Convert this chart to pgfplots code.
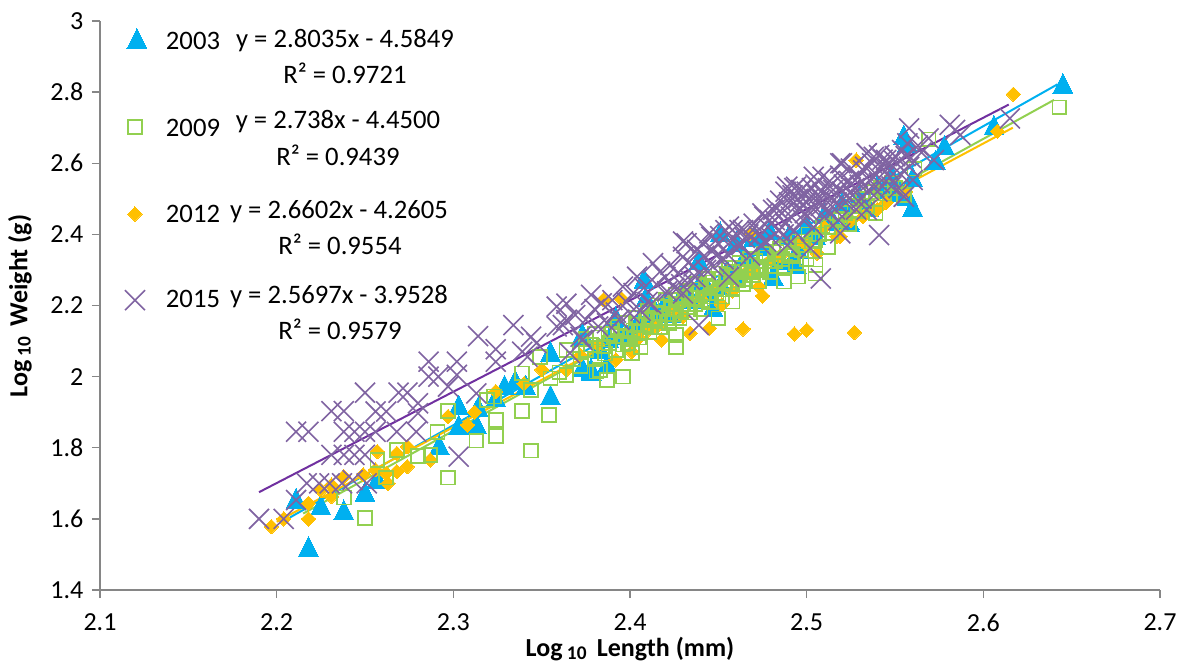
\documentclass[border=0pt]{standalone}
\usepackage{fontspec}
\setmainfont{Carlito}
\usepackage{pgfplots}
\usepackage{pgfplotstable}
\pgfplotsset{compat=1.18}
\definecolor{cblue}{HTML}{00B0F0}
\definecolor{cgreen}{HTML}{92D050}
\definecolor{cyellow}{HTML}{FFC000}
\definecolor{cpurple}{HTML}{8064A2}
\definecolor{cline}{HTML}{7030A0}
\definecolor{caxis}{HTML}{868686}
\newcommand{\txt}[2]{\node[font=\fontsize{20}{20}\selectfont, inner sep=0pt] at (#1) {#2};}
\pgfplotstableread{
x y
2.1209 2.941
2.211 1.649
2.218 1.513
2.225 1.630
2.238 1.616
2.250 1.667
2.257 1.705
2.292 1.799
2.303 1.911
2.303 1.855
2.313 1.859
2.314 1.906
2.324 1.934
2.329 1.967
2.335 1.981
2.341 1.967
2.355 1.939
2.355 2.061
2.373 2.019
2.378 2.009
2.373 2.103
2.378 2.014
2.387 2.028
2.408 2.267
2.409 2.215
2.373 2.112
2.439 2.319
2.451 2.398
2.447 2.187
2.479 2.403
2.481 2.276
2.494 2.309
2.524 2.431
2.392 2.159
2.400 2.120
2.412 2.180
2.420 2.200
2.430 2.230
2.440 2.260
2.455 2.290
2.465 2.330
2.475 2.360
2.490 2.390
2.500 2.420
2.510 2.450
2.520 2.480
2.530 2.500
2.540 2.530
2.548 2.560
2.645 2.815
2.606 2.698
2.555 2.670
2.578 2.642
2.573 2.600
2.560 2.553
2.557 2.501
2.560 2.469
2.524 2.426
2.545 2.520
2.383 2.070
2.388 2.100
2.395 2.110
2.405 2.150
2.415 2.170
2.425 2.170
2.435 2.210
2.445 2.230
2.452 2.250
2.460 2.280
2.470 2.300
2.485 2.320
2.495 2.350
2.505 2.390
2.515 2.430
2.535 2.470
2.550 2.510
2.557 2.650
2.470 2.385
2.460 2.370
}\tblA
\pgfplotstableread{
x y
2.1198 2.457
2.197 1.578
2.204 1.600
2.218 1.600
2.218 1.644
2.225 1.681
2.231 1.695
2.238 1.719
2.231 1.663
2.249 1.724
2.257 1.789
2.256 1.738
2.263 1.700
2.262 1.728
2.268 1.733
2.274 1.747
2.268 1.784
2.274 1.803
2.287 1.766
2.297 1.888
2.308 1.864
2.312 1.900
2.324 1.958
2.464 2.134
2.493 2.120
2.500 2.131
2.527 2.124
2.445 2.136
2.434 2.122
2.418 2.103
2.475 2.227
2.473 2.253
2.468 2.403
2.385 2.216
2.395 2.220
2.392 2.047
2.364 2.019
2.401 2.070
2.452 2.202
2.458 2.240
2.506 2.347
2.519 2.394
2.532 2.450
2.617 2.794
2.528 2.609
2.517 2.394
2.340 1.980
2.350 2.020
2.372 2.060
2.382 2.090
2.410 2.130
2.425 2.190
2.440 2.220
2.470 2.300
2.485 2.340
2.495 2.380
2.510 2.420
2.545 2.490
2.556 2.520
2.608 2.690
2.405 2.110
2.415 2.140
2.430 2.170
2.448 2.250
2.465 2.290
2.480 2.330
2.500 2.370
2.525 2.440
2.540 2.470
}\tblC
\pgfplotstableread{
x y
2.1198 2.702
2.250 1.602
2.297 1.716
2.344 1.792
2.238 1.660
2.262 1.716
2.257 1.766
2.268 1.794
2.280 1.777
2.287 1.780
2.291 1.845
2.297 1.904
2.313 1.820
2.324 1.833
2.324 1.878
2.319 1.934
2.323 1.944
2.339 1.903
2.354 1.892
2.339 2.009
2.344 1.962
2.349 2.056
2.355 1.995
2.364 2.005
2.364 2.075
2.381 2.014
2.387 1.991
2.396 2.000
2.360 2.012
2.383 2.019
2.401 2.066
2.406 2.084
2.426 2.084
2.426 2.117
2.450 2.164
2.458 2.211
2.487 2.267
2.495 2.281
2.505 2.314
2.512 2.365
2.539 2.459
2.505 2.290
2.473 2.267
2.643 2.757
2.569 2.667
2.555 2.511
2.368 2.050
2.372 2.030
2.375 2.075
2.378 2.090
2.380 2.050
2.383 2.110
2.386 2.065
2.388 2.095
2.390 2.130
2.392 2.075
2.395 2.115
2.397 2.150
2.399 2.095
2.402 2.130
2.404 2.165
2.405 2.110
2.408 2.145
2.410 2.185
2.411 2.125
2.413 2.160
2.415 2.200
2.417 2.140
2.419 2.175
2.420 2.215
2.422 2.150
2.424 2.190
2.426 2.230
2.428 2.165
2.430 2.205
2.432 2.240
2.434 2.180
2.436 2.220
2.438 2.260
2.440 2.190
2.442 2.235
2.444 2.275
2.446 2.210
2.448 2.250
2.450 2.290
2.452 2.225
2.454 2.265
2.456 2.305
2.458 2.245
2.460 2.280
2.462 2.320
2.464 2.260
2.466 2.295
2.468 2.330
2.470 2.285
2.473 2.310
2.476 2.345
2.479 2.295
2.482 2.325
2.485 2.360
2.488 2.310
2.491 2.340
2.494 2.320
2.497 2.355
2.500 2.330
2.503 2.380
2.507 2.400
2.512 2.420
2.517 2.440
2.522 2.460
2.527 2.480
2.532 2.500
2.537 2.520
2.542 2.530
2.548 2.545
2.400 2.110
2.403 2.145
2.406 2.125
2.409 2.165
2.412 2.140
2.414 2.180
2.416 2.155
2.418 2.195
2.421 2.165
2.423 2.205
2.425 2.175
2.427 2.215
2.429 2.185
2.431 2.225
2.433 2.195
2.435 2.235
2.437 2.205
2.439 2.245
2.441 2.215
2.443 2.255
2.445 2.225
2.447 2.265
2.449 2.235
2.451 2.275
2.453 2.245
2.455 2.285
2.457 2.260
2.459 2.295
2.461 2.270
2.463 2.305
2.465 2.275
2.467 2.315
2.469 2.295
2.471 2.325
2.474 2.300
2.477 2.335
2.480 2.310
2.483 2.350
2.486 2.330
2.489 2.365
2.492 2.345
2.495 2.380
2.498 2.370
2.501 2.400
2.505 2.385
2.509 2.425
2.514 2.405
2.519 2.445
2.524 2.430
2.529 2.465
2.534 2.480
2.539 2.500
2.544 2.515
2.550 2.530
2.375 2.105
2.380 2.120
2.385 2.085
2.389 2.120
2.393 2.140
2.396 2.090
2.561 2.585
}\tblB
\pgfplotstableread{
x y
2.1198 2.215
2.190 1.600
2.204 1.600
2.211 1.653
2.211 1.845
2.218 1.845
2.231 1.903
2.238 1.903
2.250 1.955
2.256 1.902
2.262 1.902
2.269 1.955
2.274 1.955
2.280 1.925
2.286 2.042
2.286 2.000
2.2915 2.000
2.297 1.972
2.302 2.042
2.302 2.005
2.314 2.114
2.324 2.077
2.324 2.042
2.334 2.145
2.339 2.070
2.344 2.112
2.342 2.056
2.347 2.094
2.362 2.145
2.372 2.112
2.364 2.205
2.217 1.700
2.224 1.700
2.230 1.700
2.237 1.700
2.243 1.709
2.251 1.700
2.231 1.780
2.238 1.780
2.244 1.780
2.250 1.780
2.238 1.845
2.244 1.845
2.250 1.845
2.256 1.845
2.268 1.845
2.279 1.845
2.303 1.775
2.313 1.953
2.280 1.897
2.3585 2.197
2.364 2.159
2.3585 2.141
2.369 2.173
2.378 2.230
2.384 2.206
2.373 2.103
2.366 2.066
2.382 2.141
2.396 2.253
2.404 2.281
2.400 2.178
2.413 2.319
2.423 2.314
2.430 2.380
2.430 2.337
2.438 2.356
2.434 2.272
2.430 2.234
2.446 2.393
2.447 2.356
2.454 2.412
2.458 2.412
2.462 2.412
2.447 2.309
2.456 2.281
2.476 2.450
2.483 2.473
2.488 2.520
2.493 2.530
2.500 2.520
2.503 2.530
2.439 2.145
2.508 2.276
2.541 2.398
2.502 2.361
2.489 2.370
2.392 2.180
2.410 2.210
2.415 2.260
2.420 2.280
2.425 2.250
2.436 2.310
2.442 2.340
2.450 2.375
2.453 2.330
2.460 2.360
2.465 2.390
2.468 2.340
2.472 2.410
2.474 2.370
2.478 2.420
2.480 2.390
2.482 2.440
2.484 2.410
2.486 2.460
2.488 2.430
2.490 2.490
2.491 2.450
2.493 2.410
2.495 2.500
2.496 2.470
2.498 2.440
2.500 2.490
2.502 2.460
2.504 2.420
2.506 2.510
2.508 2.480
2.510 2.450
2.512 2.530
2.514 2.500
2.516 2.470
2.518 2.440
2.520 2.520
2.522 2.490
2.524 2.550
2.526 2.510
2.528 2.470
2.530 2.540
2.532 2.580
2.534 2.628
2.536 2.550
2.538 2.618
2.540 2.520
2.542 2.590
2.545 2.609
2.547 2.560
2.550 2.620
2.552 2.530
2.554 2.637
2.555 2.506
2.558 2.698
2.558 2.590
2.560 2.553
2.520 2.600
2.569 2.670
2.563 2.650
2.572 2.609
2.581 2.708
2.584 2.694
2.587 2.680
2.615 2.726
2.432 2.375
2.445 2.403
2.456 2.422
2.464 2.412
2.475 2.459
2.481 2.469
2.489 2.534
2.494 2.534
2.504 2.562
2.509 2.562
2.519 2.600
2.534 2.628
2.541 2.623
2.549 2.609
2.557 2.656
2.519 2.403
2.534 2.469
2.555 2.506
2.470 2.430
2.473 2.395
2.477 2.380
2.479 2.440
2.485 2.495
2.487 2.400
2.492 2.510
2.494 2.480
2.497 2.525
2.499 2.460
2.501 2.500
2.503 2.475
2.505 2.540
2.507 2.495
2.509 2.515
2.511 2.470
2.513 2.550
2.515 2.525
2.517 2.490
2.519 2.565
2.521 2.540
2.523 2.510
2.525 2.585
2.527 2.530
2.529 2.560
2.531 2.500
2.533 2.590
2.535 2.525
2.537 2.600
2.539 2.570
2.541 2.545
2.543 2.610
2.546 2.585
2.548 2.535
2.551 2.600
2.553 2.570
2.556 2.620
2.559 2.615
2.565 2.630
2.375 2.160
2.380 2.190
2.387 2.150
2.390 2.215
2.394 2.160
2.398 2.210
2.402 2.235
2.406 2.185
2.408 2.250
2.412 2.205
2.417 2.295
2.421 2.240
2.427 2.290
2.429 2.260
2.433 2.320
2.437 2.280
2.441 2.375
2.443 2.300
2.449 2.340
2.451 2.395
2.455 2.345
2.458 2.385
2.463 2.370
2.467 2.400
}\tblD
\begin{document}
\begin{tikzpicture}
\path[use as bounding box] (-75pt,-55.5pt) rectangle (810.75pt,442.5pt);
\begin{axis}[
  at={(0pt,0pt)}, anchor=south west, scale only axis,
  width=795pt, height=426.75pt,
  xmin=2.1, xmax=2.7, ymin=1.4, ymax=3,
  xtick={2.1,2.2,2.3,2.4,2.5,2.6,2.7},
  ytick={1.4,1.6,1.8,2,2.2,2.4,2.6,2.8,3},
  axis lines=left,
  axis line style={-, draw=caxis, line width=1.1pt},
  tick style={draw=caxis, line width=1.1pt},
  tick align=outside, major tick length=6pt,
  ticklabel style={font=\fontsize{19.5}{19.5}\selectfont, text=black},
  xticklabel style={yshift=-8.5pt},
  yticklabel style={xshift=-3pt},
  /pgf/number format/assume math mode=true,
  /pgf/number format/fixed,
  /pgf/number format/precision=1,
  clip=false,
]
\addplot[only marks, mark=triangle*, mark size=8.6pt, mark options={draw=cblue, fill=cblue, line width=0pt, yscale=1.15}] table[x=x,y=y]{\tblA};
\addplot[only marks, mark=square*, mark size=3.8pt, mark options={draw=cyellow, fill=cyellow, line width=0pt, rotate=45}] table[x=x,y=y]{\tblC};
\addplot[only marks, mark=square, mark size=5.2pt, mark options={draw=cgreen, line width=1.3pt}] table[x=x,y=y]{\tblB};
\addplot[only marks, mark=x, mark size=10.6pt, mark options={draw=cpurple, line width=1.2pt}] table[x=x,y=y]{\tblD};
\addplot[no marks, cblue, line width=1.5pt] coordinates {(2.2075,1.604) (2.642,2.822)};
\addplot[no marks, cgreen, line width=1.5pt] coordinates {(2.215,1.615) (2.640,2.778)};
\addplot[no marks, cyellow, line width=1.5pt] coordinates {(2.200,1.592) (2.6167,2.700)};
\addplot[no marks, cline, line width=1.5pt] coordinates {(2.190,1.675) (2.6144,2.765)};
\end{axis}
\txt{69.75pt,411.75pt}{2003}
\txt{183.75pt,411.75pt}{y = 2.8035x - 4.5849}
\txt{183.75pt,387.75pt}{R² = 0.9721}
\txt{69.75pt,346.5pt}{2009}
\txt{178.5pt,351pt}{y = 2.738x - 4.4500}
\txt{178.5pt,326.25pt}{R² = 0.9439}
\txt{69.75pt,282pt}{2012}
\txt{179.25pt,283.5pt}{y = 2.6602x - 4.2605}
\txt{180pt,259.5pt}{R² = 0.9554}
\txt{69.75pt,218.25pt}{2015}
\txt{179.25pt,219.75pt}{y = 2.5697x - 3.9528}
\txt{180pt,195.75pt}{R² = 0.9579}
\node[font=\fontsize{19.5}{19.5}\selectfont\bfseries, inner sep=0pt] at (397.5pt,-44.5pt) {Log\,\raisebox{-0.25ex}{\fontsize{14.5}{14.5}\selectfont 10}\, Length (mm)};
\node[font=\fontsize{19.5}{19.5}\selectfont\bfseries, inner sep=0pt, rotate=90] at (-60pt,213pt) {Log\,\raisebox{-0.25ex}{\fontsize{14.5}{14.5}\selectfont 10}\, Weight (g)};
\end{tikzpicture}
\end{document}
